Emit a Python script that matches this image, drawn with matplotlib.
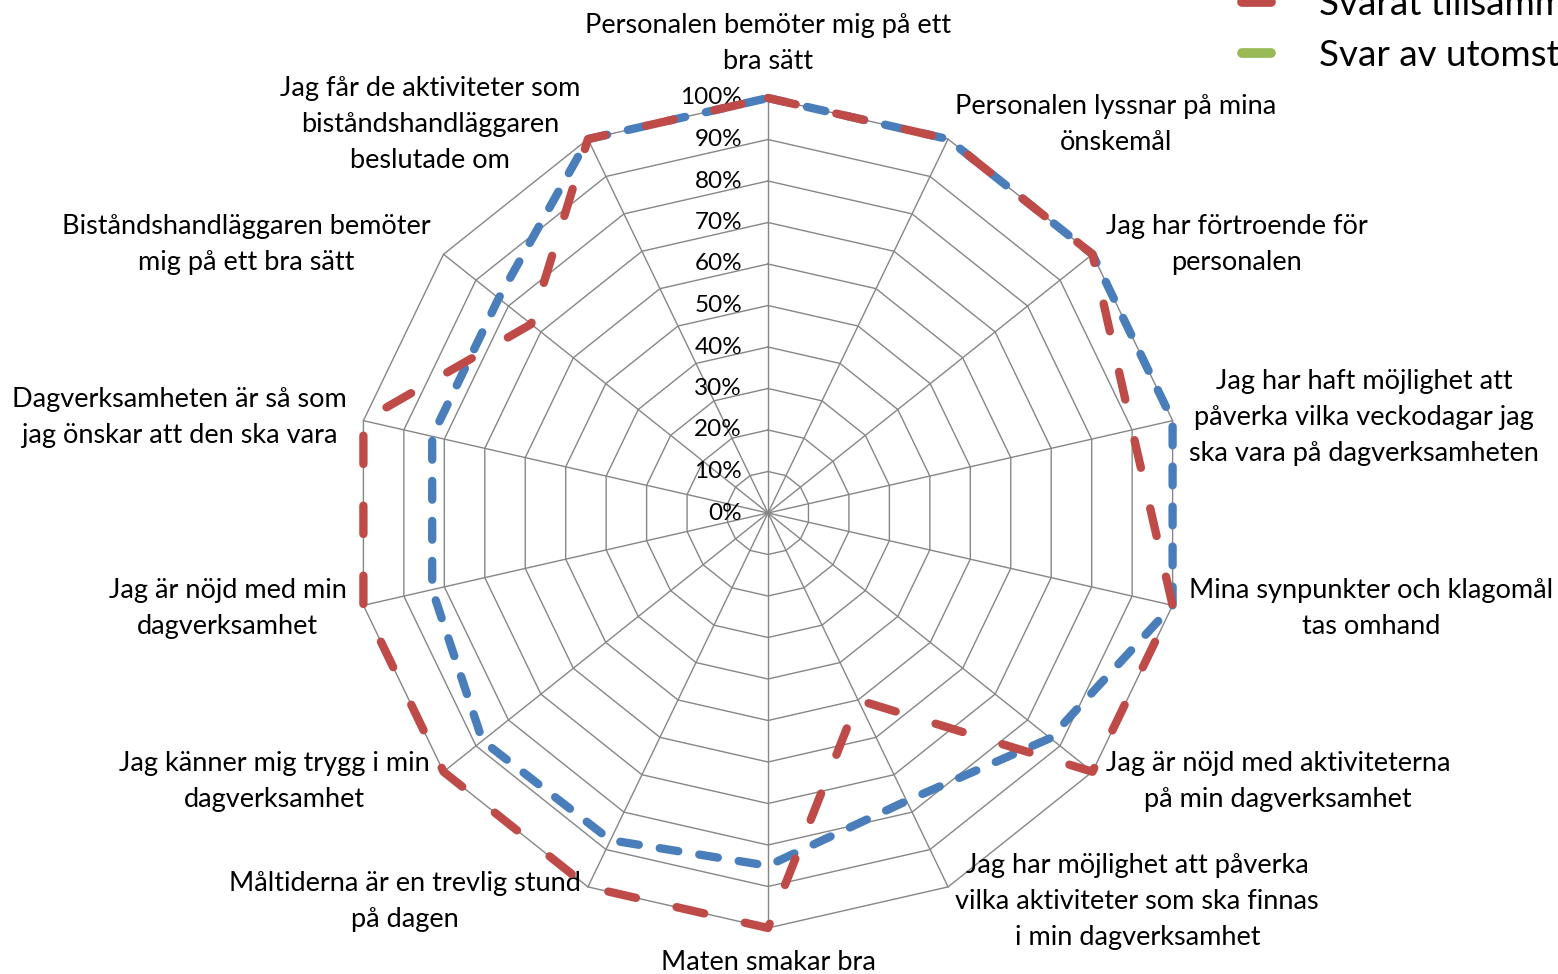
"""
Radar chart: nöjdhet med dagverksamheten per påstående och svarssätt.
"""
import numpy as np
import matplotlib.pyplot as plt
from matplotlib.lines import Line2D

plt.rcParams['font.family'] = ['Lato', 'DejaVu Sans']

# Data (andel nöjda, %)
categories = [
    "Personalen bemöter mig på ett\nbra sätt",
    "Personalen lyssnar på mina\nönskemål",
    "Jag har förtroende för\npersonalen",
    "Jag har haft möjlighet att\npåverka vilka veckodagar jag\nska vara på dagverksamheten",
    "Mina synpunkter och klagomål\ntas omhand",
    "Jag är nöjd med aktiviteterna\npå min dagverksamhet",
    "Jag har möjlighet att påverka\nvilka aktiviteter som ska finnas\ni min dagverksamhet",
    "Maten smakar bra",
    "Måltiderna är en trevlig stund\npå dagen",
    "Jag känner mig trygg i min\ndagverksamhet",
    "Jag är nöjd med min\ndagverksamhet",
    "Dagverksamheten är så som\njag önskar att den ska vara",
    "Biståndshandläggaren bemöter\nmig på ett bra sätt",
    "Jag får de aktiviteter som\nbiståndshandläggaren\nbeslutade om",
]
svarat_sjalv = [100, 100, 100, 100, 100, 87, 77, 85, 87.5, 88, 83, 83, 83, 100]
svarat_tillsammans = [100, 100, 100, 90, 100, 100, 50, 100, 100, 100, 100, 100, 73, 100]
svar_utomstaende = []
series_names = ["Svarat själv", "Svarat tillsammans med någon", "Svar av utomstående"]
r_ticks = [0, 10, 20, 30, 40, 50, 60, 70, 80, 90, 100]

BLUE = '#4A7EBB'
RED = '#BE4B48'
GREEN = '#98B954'
GRID = '#868686'
LABEL_SIZE = 19.5

W, H = 1558, 974
fig = plt.figure(figsize=(W / 100, H / 100), dpi=100)

# polar axes placed so the chart centre / radius match the original
cx, cy, R = 768, 513, 415
ax = fig.add_axes([(cx - R) / W, (H - cy - R) / H, 2 * R / W, 2 * R / H],
                  projection='polar')
ax.set_theta_zero_location('N')
ax.set_theta_direction(-1)
ax.set_ylim(0, 100)
ax.grid(False)
ax.set_xticks([])
ax.set_yticks([])
ax.spines['polar'].set_visible(False)
ax.patch.set_visible(False)

n = len(categories)
angles = np.linspace(0, 2 * np.pi, n, endpoint=False)
closed = np.append(angles, angles[0])

# polygon grid
for v in r_ticks[1:]:
    ax.plot(closed, [v] * (n + 1), color=GRID, lw=1.0, zorder=1, clip_on=False)
for a in angles:
    ax.plot([a, a], [0, 100], color=GRID, lw=1.0, zorder=1, clip_on=False)

# series
ax.plot(closed, svarat_sjalv + svarat_sjalv[:1], color=BLUE, lw=6,
        dashes=(2.25, 2.55), dash_capstyle='round', zorder=3, clip_on=False)
ax.plot(closed, svarat_tillsammans + svarat_tillsammans[:1], color=RED, lw=6,
        dashes=(3.4, 5.0), dash_capstyle='round', zorder=4, clip_on=False)
ax.plot(angles[:len(svar_utomstaende)], svar_utomstaende, color=GREEN, lw=6,
        zorder=2, clip_on=False)

# radial tick labels along the top spoke
for v in r_ticks:
    ax.annotate(f"{v}%", xy=(0, v), xytext=(-26, 0), textcoords='offset pixels',
                ha='right', va='center', fontsize=17.5, annotation_clip=False)

# category labels
for a, label in zip(angles, categories):
    s, c = np.sin(a), np.cos(a)
    if abs(s) < 1e-6:
        if c > 0:
            ax.annotate(label, xy=(a, 100), xytext=(0, 24), textcoords='offset pixels',
                        ha='center', va='bottom', multialignment='center',
                        fontsize=LABEL_SIZE, linespacing=1.55, annotation_clip=False)
        else:
            ax.annotate(label, xy=(a, 100), xytext=(0, -22), textcoords='offset pixels',
                        ha='center', va='top', multialignment='center',
                        fontsize=LABEL_SIZE, linespacing=1.55, annotation_clip=False)
        continue
    ha = 'left' if s > 0 else 'right'
    ax.annotate(label, xy=(a, 100), xytext=(17 * s, 16 * c), textcoords='offset pixels',
                ha=ha, va='center', multialignment='center',
                fontsize=LABEL_SIZE, linespacing=1.55, annotation_clip=False)

# legend (cut by the figure edge like in the original)
handles = [Line2D([], [], color=col, lw=7, solid_capstyle='round')
           for col in (BLUE, RED, GREEN)]
fig.legend(handles, series_names, loc='center left',
           bbox_to_anchor=(1242 / W, 1 - 4 / H), frameon=False, fontsize=26.5,
           handlelength=0.8, handletextpad=1.3, labelspacing=0.48,
           borderpad=0, borderaxespad=0)

fig.savefig('out.png', dpi=100)
